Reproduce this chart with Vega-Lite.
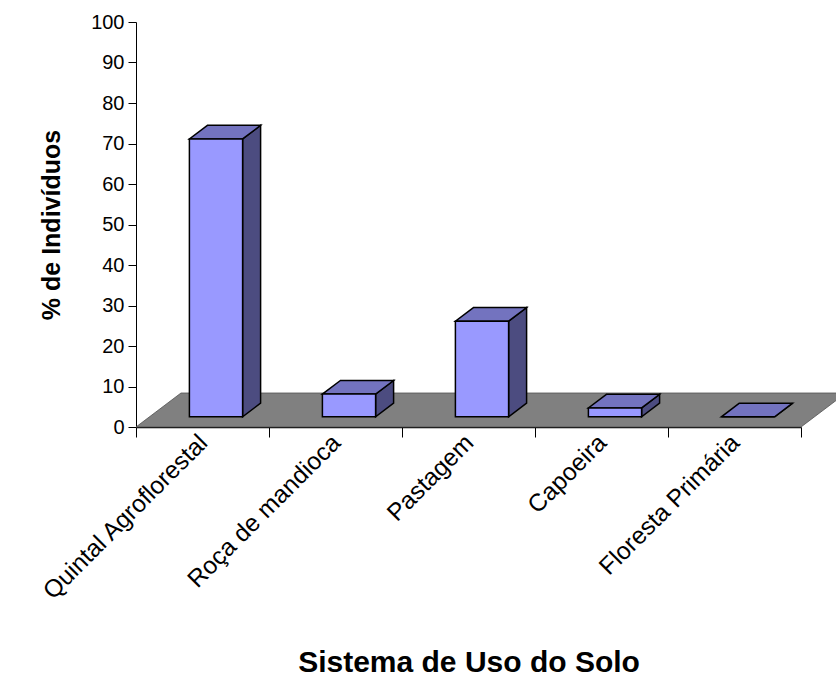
{
  "$schema": "https://vega.github.io/schema/vega-lite/v6.json",
  "width": 665,
  "height": 405,
  "autosize": {"type": "none"},
  "padding": {"left": 136, "top": 22, "right": 35, "bottom": 253},
  "background": "white",
  "config": {
    "view": {"stroke": null},
    "font": "Liberation Sans",
    "axis": {"grid": false, "domainColor": "black", "tickColor": "black", "labelColor": "black", "titleColor": "black"}
  },
  "data": {
    "values": [
      {"sistema": "Quintal Agroflorestal", "pct": 68.6},
      {"sistema": "Roça de mandioca", "pct": 5.6},
      {"sistema": "Pastagem", "pct": 23.6},
      {"sistema": "Capoeira", "pct": 2.2},
      {"sistema": "Floresta Primária", "pct": 0}
    ]
  },
  "transform": [
    {"window": [{"op": "row_number", "as": "n"}]}
  ],
  "layer": [
    {
      "description": "grey floor of the pseudo-3D plot, drawn as a parallelogram receding up and to the right",
      "transform": [
        {"aggregate": [{"op": "count", "as": "k"}]},
        {"calculate": "[0, 1]", "as": "c"},
        {"flatten": ["c"]},
        {"calculate": "datum.c * 8.395", "as": "fy"},
        {"calculate": "datum.c * 0.3383", "as": "fx"},
        {"calculate": "datum.k + datum.c * 0.3383", "as": "fx2"}
      ],
      "mark": {"type": "area", "orient": "horizontal", "fill": "#808080", "stroke": "#505050", "strokeWidth": 0.8, "clip": false},
      "encoding": {
        "y": {
          "field": "fy", "type": "quantitative", "stack": null,
          "scale": {"domain": [0, 100], "nice": false},
          "title": "% de Indivíduos",
          "axis": {
            "values": [0, 10, 20, 30, 40, 50, 60, 70, 80, 90, 100],
            "title": "% de Indivíduos",
            "titleFontSize": 25, "titleFontWeight": "bold", "titlePadding": 26,
            "labelFontSize": 20, "labelPadding": 4, "tickSize": 8
          }
        },
        "x": {
          "field": "fx", "type": "quantitative", "stack": null,
          "scale": {"domain": [0, 5], "nice": false},
          "title": "Sistema de Uso do Solo",
          "axis": {
            "values": [0, 1, 2, 3, 4, 5],
            "labels": false, "tickSize": 10, "domainWidth": 1.5,
            "title": "Sistema de Uso do Solo",
            "titleFontSize": 30, "titleFontWeight": "bold",
            "titleBaseline": "alphabetic", "titleY": 244
          }
        },
        "x2": {"field": "fx2"}
      }
    },
    {
      "description": "dark right-hand side of each column",
      "transform": [
        {"calculate": "[0, 1]", "as": "c"},
        {"flatten": ["c"]},
        {"calculate": "datum.n - 0.1985 + datum.c * 0.1353", "as": "sx"},
        {"calculate": "2.52 + datum.c * 3.358", "as": "sb"},
        {"calculate": "datum.sb + datum.pct", "as": "st"}
      ],
      "mark": {"type": "area", "orient": "vertical", "fill": "#4C4C80", "stroke": "black", "strokeWidth": 1.5, "strokeJoin": "miter", "clip": false},
      "encoding": {
        "x": {"field": "sx", "type": "quantitative", "title": "Sistema de Uso do Solo", "scale": {"domain": [0, 5], "nice": false}},
        "y": {"field": "st", "type": "quantitative", "title": "% de Indivíduos", "stack": null, "scale": {"domain": [0, 100], "nice": false}},
        "y2": {"field": "sb"},
        "detail": {"field": "sistema", "type": "nominal"}
      }
    },
    {
      "description": "top face of each column",
      "transform": [
        {"calculate": "[0, 1]", "as": "c"},
        {"flatten": ["c"]},
        {"calculate": "datum.pct + 2.52 + datum.c * 3.358", "as": "ty"},
        {"calculate": "datum.n - 0.5985 + datum.c * 0.1353", "as": "tx"},
        {"calculate": "datum.n - 0.1985 + datum.c * 0.1353", "as": "tx2"}
      ],
      "mark": {"type": "area", "orient": "horizontal", "fill": "#7373BF", "stroke": "black", "strokeWidth": 1.5, "strokeJoin": "miter", "clip": false},
      "encoding": {
        "y": {"field": "ty", "type": "quantitative", "title": "% de Indivíduos", "scale": {"domain": [0, 100], "nice": false}},
        "x": {"field": "tx", "type": "quantitative", "title": "Sistema de Uso do Solo", "stack": null, "scale": {"domain": [0, 5], "nice": false}},
        "x2": {"field": "tx2"},
        "detail": {"field": "sistema", "type": "nominal"}
      }
    },
    {
      "description": "front face of each column, its height is the percentage",
      "transform": [
        {"calculate": "datum.n - 0.5985", "as": "fx0"},
        {"calculate": "datum.n - 0.1985", "as": "fx1"},
        {"calculate": "2.52", "as": "fy0"},
        {"calculate": "datum.pct + 2.52", "as": "fy1"}
      ],
      "mark": {"type": "rect", "fill": "#9999FF", "stroke": "black", "strokeWidth": 1.5, "clip": false},
      "encoding": {
        "x": {"field": "fx0", "type": "quantitative", "title": "Sistema de Uso do Solo", "scale": {"domain": [0, 5], "nice": false}},
        "x2": {"field": "fx1"},
        "y": {"field": "fy1", "type": "quantitative", "title": "% de Indivíduos", "scale": {"domain": [0, 100], "nice": false}},
        "y2": {"field": "fy0"}
      }
    },
    {
      "description": "category names, slanted under each column",
      "transform": [
        {"calculate": "datum.n - 0.5", "as": "lx"}
      ],
      "mark": {"type": "text", "angle": 315, "align": "right", "baseline": "top", "fontSize": 24.5, "color": "black", "xOffset": -7, "yOffset": 4},
      "encoding": {
        "x": {"field": "lx", "type": "quantitative", "title": "Sistema de Uso do Solo", "scale": {"domain": [0, 5], "nice": false}},
        "y": {"datum": 0, "type": "quantitative", "title": "% de Indivíduos", "scale": {"domain": [0, 100], "nice": false}},
        "text": {"field": "sistema", "type": "nominal"}
      }
    }
  ]
}
